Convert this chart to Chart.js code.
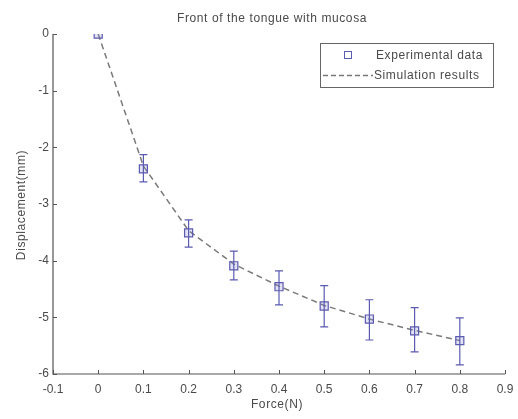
<!DOCTYPE html>
<html>
<head>
<meta charset="utf-8">
<script src="https://cdn.jsdelivr.net/npm/chart.js@4/dist/chart.umd.min.js"></script>
<style>
html,body{margin:0;padding:0;background:#fff;}
#wrap{position:relative;width:518px;height:419px;}
</style>
</head>
<body>
<div id="wrap"><canvas id="c" width="518" height="419"></canvas></div>
<script>
const titleText = "Front of the tongue with mucosa";
const xLabel = "Force(N)";
const yLabel = "Displacement(mm)";
const force = [0, 0.1, 0.2, 0.3, 0.4, 0.5, 0.6, 0.7, 0.8];
const experimental = [0, -2.38, -3.51, -4.09, -4.46, -4.80, -5.03, -5.24, -5.41];
const errUpper = [null, -2.13, -3.28, -3.83, -4.18, -4.44, -4.69, -4.83, -5.01];
const errLower = [null, -2.61, -3.76, -4.34, -4.78, -5.17, -5.40, -5.61, -5.84];
const simulation = [0, -2.33, -3.47, -4.06, -4.45, -4.79, -5.03, -5.23, -5.41];
const xTicks = [-0.1, 0, 0.1, 0.2, 0.3, 0.4, 0.5, 0.6, 0.7, 0.8, 0.9];
const yTicks = [0, -1, -2, -3, -4, -5, -6];
const seriesNames = ["Experimental data", "Simulation results"];

const FONT = "'Liberation Sans', Arial, sans-serif";
const TXT = "#4a4a4a";
const AXIS = "#555";
const BLUE = "#5b5bb0";

const expPts = force.map((x, i) => ({x: x, y: experimental[i], hi: errUpper[i], lo: errLower[i]}));
const simPts = force.map((x, i) => ({x: x, y: simulation[i]}));

const errorBars = {
  id: 'errorBars',
  afterDatasetsDraw(chart) {
    const ctx = chart.ctx, xs = chart.scales.x, ys = chart.scales.y;
    ctx.save();
    ctx.strokeStyle = BLUE;
    ctx.lineWidth = 1.2;
    expPts.forEach(p => {
      if (p.hi == null) return;
      const px = xs.getPixelForValue(p.x);
      const t = ys.getPixelForValue(p.hi), b = ys.getPixelForValue(p.lo);
      ctx.beginPath();
      ctx.moveTo(px, t); ctx.lineTo(px, b);
      ctx.moveTo(px - 4, t); ctx.lineTo(px + 4, t);
      ctx.moveTo(px - 4, b); ctx.lineTo(px + 4, b);
      ctx.stroke();
    });
    ctx.restore();
  }
};

const axesDeco = {
  id: 'axesDeco',
  afterDraw(chart) {
    const ctx = chart.ctx, a = chart.chartArea, xs = chart.scales.x, ys = chart.scales.y;
    ctx.save();
    ctx.strokeStyle = AXIS;
    ctx.lineWidth = 1.2;
    ctx.beginPath();
    ctx.moveTo(a.left, a.top); ctx.lineTo(a.left, a.bottom); ctx.lineTo(a.right, a.bottom);
    ctx.stroke();
    ctx.lineWidth = 1;
    ctx.beginPath();
    xTicks.forEach(v => { const px = Math.round(xs.getPixelForValue(v)) + 0.5; ctx.moveTo(px, a.bottom); ctx.lineTo(px, a.bottom - 4); });
    yTicks.forEach(v => { const py = Math.round(ys.getPixelForValue(v)) + 0.5; ctx.moveTo(a.left, py); ctx.lineTo(a.left + 4, py); });
    ctx.stroke();
    ctx.fillStyle = TXT;
    ctx.font = "12px " + FONT;
    try { ctx.letterSpacing = "0.6px"; } catch (e) {}
    ctx.textAlign = "center";
    ctx.textBaseline = "middle";
    ctx.fillText(titleText, 272, 19);
    ctx.fillText(xLabel, 277, 405);
    ctx.save();
    ctx.translate(22, 205);
    ctx.rotate(-Math.PI / 2);
    ctx.fillText(yLabel, 0, 0);
    ctx.restore();
    const lx = 320, ly = 43, lw = 173, lh = 44;
    ctx.strokeStyle = "#666";
    ctx.lineWidth = 1;
    ctx.strokeRect(lx + 0.5, ly + 0.5, lw, lh);
    ctx.strokeStyle = BLUE;
    ctx.strokeRect(344.5, 51.5, 7, 7);
    ctx.strokeStyle = "#777";
    ctx.lineWidth = 1.3;
    ctx.setLineDash([5, 3]);
    ctx.beginPath(); ctx.moveTo(323, 75.5); ctx.lineTo(373, 75.5); ctx.stroke();
    ctx.setLineDash([]);
    ctx.fillStyle = TXT;
    ctx.textAlign = "left";
    ctx.fillText(seriesNames[0], 376, 56);
    ctx.fillText(seriesNames[1], 374, 76);
    ctx.restore();
  }
};

new Chart(document.getElementById('c'), {
  type: 'scatter',
  data: {
    datasets: [
      {
        label: seriesNames[1],
        data: simPts,
        showLine: true,
        borderColor: '#7a7a7a',
        borderWidth: 1.5,
        borderDash: [6, 4],
        pointRadius: 0,
        tension: 0,
        order: 2
      },
      {
        label: seriesNames[0],
        data: expPts,
        showLine: false,
        pointStyle: 'rect',
        pointRadius: 5.7,
        pointBorderColor: BLUE,
        pointBackgroundColor: 'rgba(140,140,210,0.25)',
        pointBorderWidth: 1.2,
        order: 1
      }
    ]
  },
  options: {
    responsive: false,
    animation: false,
    events: [],
    layout: {padding: {top: 34, right: 13, left: 0, bottom: 0}},
    plugins: {legend: {display: false}, tooltip: {enabled: false}, title: {display: false}},
    scales: {
      x: {
        type: 'linear', min: -0.1, max: 0.9,
        afterBuildTicks: s => { s.ticks = xTicks.map(v => ({value: v})); },
        afterFit: s => { s.height = 45; s.paddingLeft = 0; s.paddingRight = 0; },
        grid: {display: false, drawTicks: false},
        border: {display: false},
        ticks: {color: TXT, font: {family: FONT, size: 12}, padding: 8, maxRotation: 0,
          callback: v => String(Math.round(v * 10) / 10)},
        title: {display: false}
      },
      y: {
        type: 'linear', min: -6, max: 0,
        afterBuildTicks: s => { s.ticks = yTicks.map(v => ({value: v})); },
        afterFit: s => { s.width = 53; s.paddingTop = 0; s.paddingBottom = 0; },
        grid: {display: false, drawTicks: false},
        border: {display: false},
        ticks: {color: TXT, font: {family: FONT, size: 12}, padding: 4,
          callback: v => String(v)},
        title: {display: false}
      }
    }
  },
  plugins: [errorBars, axesDeco]
});
</script>
</body>
</html>
